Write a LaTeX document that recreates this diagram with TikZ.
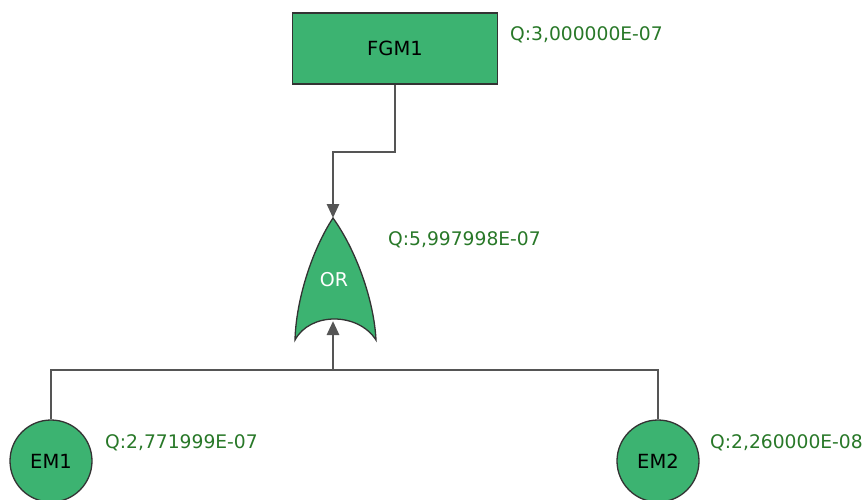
\documentclass[tikz,border=0pt]{standalone}
\usepackage{fontspec}
\setmainfont{DejaVu Sans}
\usetikzlibrary{arrows.meta}
\definecolor{fillg}{RGB}{60,179,113}
\definecolor{qtext}{RGB}{40,120,40}
\definecolor{wire}{RGB}{85,85,85}
\tikzset{
  evt/.style={draw=black!80, line width=1.3pt, fill=fillg},
  qlab/.style={anchor=west, text=qtext, font=\fontsize{18.7}{22}\selectfont, inner sep=0pt},
  wirestyle/.style={draw=wire, line width=2.8pt},
  tip/.style={-{Triangle[width=12pt,length=14pt]}, shorten >=0pt},
}
\begin{document}
\begin{tikzpicture}[x=1pt,y=-1pt]
\useasboundingbox (0,0) rectangle (865,500);
\begin{scope}
\clip (0,0) rectangle (865,500);
% FGM1
\node[evt, minimum width=205pt, minimum height=71pt, inner sep=0pt, font=\fontsize{19.5}{22}\selectfont] (fgm) at (395,48.5) {FGM1};
\node[qlab] (qfgm) at (510,35) {Q:3,000000E-07};
% OR gate
\coordinate (gtop) at (333,218);
\coordinate (gbot) at (333,321);
\path[evt] (333,218) .. controls (312,250) and (296,300) .. (295,340)
  .. controls (310,312) and (358,312) .. (376,340)
  .. controls (374,300) and (356,250) .. (333,218) -- cycle;
\node[text=white, font=\fontsize{19}{22}\selectfont] (orlab) at (334,280) {OR};
\node[qlab] (qor) at (388,240) {Q:5,997998E-07};
% basic events
\node[evt, circle, minimum size=82pt, inner sep=0pt, font=\fontsize{19.5}{22}\selectfont] (em1) at (51,461) {EM1};
\node[evt, circle, minimum size=82pt, inner sep=0pt, font=\fontsize{19.5}{22}\selectfont] (em2) at (658,461) {EM2};
\node[qlab] (qem1) at (105,443) {Q:2,771999E-07};
\node[qlab] (qem2) at (710,443) {Q:2,260000E-08};
% connectors
\coordinate (bend) at (333,152);
\coordinate (bus) at (333,370);
\draw[wirestyle, line join=miter] (fgm.south) |- (bend) -- (333,205);
\draw[wirestyle, fill=wire, tip] (333,200) -- (gtop);
\draw[wirestyle] (em1.north) |- (bus) -| (em2.north);
\draw[wirestyle, fill=wire, tip] (bus) -- (gbot);
\end{scope}
\end{tikzpicture}
\end{document}
